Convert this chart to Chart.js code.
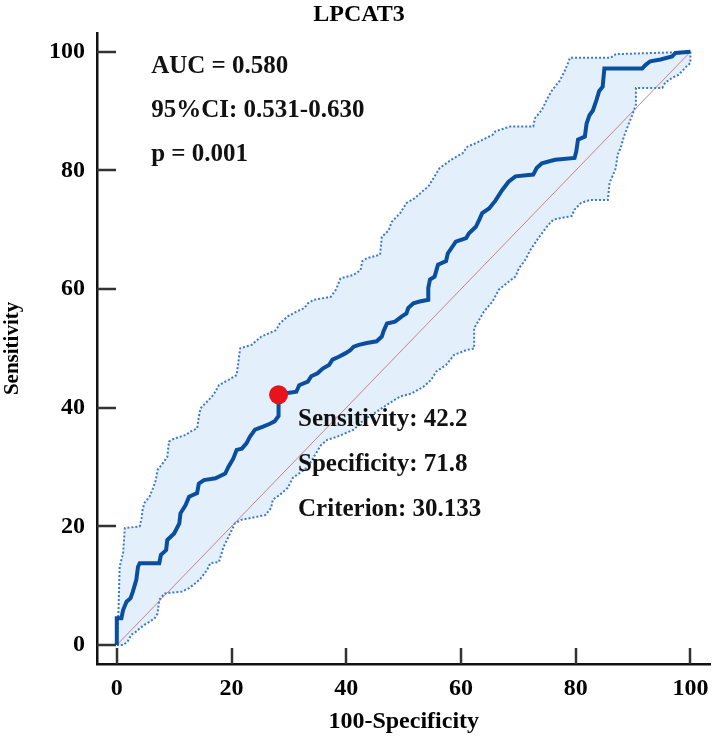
<!DOCTYPE html>
<html>
<head>
<meta charset="utf-8">
<script src="https://cdn.jsdelivr.net/npm/chart.js@4.4.1/dist/chart.umd.min.js"></script>
<style>
  body { margin: 0; background: #fff; }
  #wrap { width: 720px; height: 740px; }
</style>
</head>
<body>
<div id="wrap"><canvas id="rocChart" width="720" height="740"></canvas></div>
<script>
// ROC curve for LPCAT3: [100-Specificity, Sensitivity]
const rocCurve = [
    [0, 0], [0, 4.5], [0.8, 4.5], [1.1, 5.9], [1.7, 7.3], [2.4, 7.9], [2.8, 9.0], [3.4, 11.0], [3.7, 13.2],
    [4.0, 13.8], [7.4, 13.8], [7.7, 15.2], [8.6, 16.0], [8.8, 17.7], [10.0, 18.8], [10.9, 20.5], [11.1, 22.2],
    [12.0, 23.6], [12.6, 25.0], [14.0, 25.6], [14.3, 27.2], [15.2, 27.8], [17.2, 28.1], [18.9, 28.9],
    [19.5, 30.1], [20.3, 31.4], [20.9, 32.9], [21.8, 33.1], [22.6, 34.0], [23.2, 35.1], [24.1, 36.3],
    [25.5, 36.8], [26.7, 37.3], [27.5, 37.7], [28.2, 38.6], [28.2, 42.2], [29.2, 42.4], [31.3, 42.7],
    [31.8, 43.8], [33.3, 44.4], [33.9, 45.3], [35.0, 45.8], [35.9, 46.6], [37.0, 47.2], [37.6, 48.1],
    [38.7, 48.6], [39.9, 49.2], [40.7, 49.7], [41.3, 50.3], [42.2, 50.6], [43.6, 50.9], [45.3, 51.2],
    [46.2, 52.0], [46.5, 52.9], [47.1, 54.2], [48.5, 54.5], [49.7, 55.4], [50.5, 55.9], [50.8, 56.8],
    [51.7, 57.6], [52.8, 57.9], [54.3, 58.2], [54.3, 60.2], [54.6, 61.6], [55.4, 62.1], [56.0, 64.1],
    [57.4, 64.7], [57.7, 66.0], [59.1, 68.0], [60.9, 68.6], [61.4, 69.4], [62.6, 70.5], [63.2, 71.7],
    [63.7, 72.8], [64.9, 73.6], [66.0, 74.9], [67.2, 76.7], [68.3, 78.1], [69.5, 79.0], [72.6, 79.3],
    [73.2, 80.4], [74.1, 81.2], [76.4, 81.8], [79.8, 82.1], [80.1, 83.2], [80.4, 85.2], [81.6, 85.7],
    [81.9, 87.9], [82.4, 89.3], [83.0, 90.1], [83.6, 91.8], [84.1, 93.4], [84.7, 94.1], [85.0, 97.2],
    [91.6, 97.2], [92.2, 97.8], [93.0, 98.4], [94.8, 98.7], [96.8, 99.2], [97.4, 99.8], [100, 100]
];

// 95% confidence bounds
const upperBound = [
    [0, 0], [0.3, 6.0], [0.5, 13.2], [1.1, 15.5], [1.4, 19.7], [4.0, 20.0], [4.3, 21.3], [4.5, 22.8],
    [4.8, 23.9], [5.7, 25.0], [6.3, 26.4], [6.8, 27.8], [7.1, 29.5], [8.0, 30.6], [8.8, 31.7], [9.1, 34.3],
    [10.0, 34.8], [12.0, 35.4], [12.9, 36.0], [14.0, 36.5], [14.3, 38.5], [14.6, 39.9], [15.4, 40.7],
    [16.6, 41.9], [17.2, 42.7], [17.8, 43.8], [18.9, 44.4], [19.5, 44.7], [20.9, 45.5], [21.5, 50.0],
    [23.5, 50.6], [25.2, 52.0], [26.4, 52.5], [27.8, 53.1], [28.4, 54.2], [29.8, 55.4], [31.3, 56.2],
    [32.7, 56.8], [33.3, 57.6], [34.4, 58.2], [35.6, 58.4], [37.3, 58.7], [38.2, 59.9], [39.0, 61.8],
    [41.3, 62.4], [42.5, 63.2], [42.8, 64.7], [43.6, 65.2], [45.9, 65.8], [46.2, 68.8], [47.4, 69.9],
    [47.9, 71.3], [49.4, 72.8], [50.5, 74.5], [51.9, 75.3], [54.4, 77.4], [55.7, 79.5], [56.3, 80.4],
    [58.3, 81.8], [60.3, 82.9], [61.1, 84.0], [62.6, 84.6], [65.5, 86.0], [66.0, 86.6], [68.6, 87.4],
    [72.6, 87.4], [72.9, 88.8], [74.1, 90.2], [74.9, 91.8], [75.8, 93.4], [77.2, 95.1], [78.1, 96.8],
    [78.7, 98.2], [79.0, 99.0], [86.1, 99.0], [87.0, 99.6], [93.6, 99.8], [100, 100]
];
const lowerBound = [
    [0, 0], [1.1, 0], [1.9, 0.6], [2.5, 1.7], [3.4, 2.3], [4.0, 2.8], [4.8, 3.4], [5.7, 3.9], [6.6, 4.5],
    [7.1, 5.3], [7.4, 7.6], [8.3, 8.7], [11.4, 9.0], [12.6, 9.6], [13.7, 10.4], [14.6, 11.2], [15.7, 12.6],
    [16.3, 13.8], [17.8, 14.0], [18.6, 16.5], [20.6, 20.5], [21.7, 21.1], [25.9, 21.9], [26.9, 23.1],
    [27.2, 24.5], [28.4, 25.3], [29.8, 26.5], [30.7, 28.2], [31.9, 29.0], [33.3, 30.0], [34.4, 31.8],
    [35.6, 33.7], [36.7, 34.6], [38.4, 35.1], [41.3, 36.3], [43.0, 37.9], [44.8, 39.0], [47.1, 40.5],
    [49.4, 41.9], [51.4, 42.4], [53.4, 43.5], [54.8, 44.7], [55.7, 46.1], [57.4, 47.2], [58.8, 48.9],
    [60.9, 49.7], [62.3, 50.0], [62.3, 53.4], [64.0, 56.2], [65.5, 57.9], [66.6, 59.9], [68.0, 61.0],
    [69.5, 62.1], [70.1, 63.5], [71.2, 64.9], [72.1, 66.6], [73.5, 68.6], [75.2, 70.8], [76.1, 71.7],
    [77.5, 72.0], [79.3, 72.3], [79.8, 73.4], [80.9, 74.5], [82.4, 75.0], [85.6, 75.0], [85.9, 77.9],
    [86.4, 79.0], [87.0, 80.4], [87.3, 82.6], [87.9, 84.0], [88.4, 85.7], [89.3, 88.0], [89.9, 89.4],
    [90.5, 91.1], [90.5, 93.9], [95.1, 93.9], [95.6, 94.8], [96.8, 95.6], [97.9, 96.1], [98.8, 97.0],
    [99.4, 97.6], [100, 98.1], [100, 100]
];

const chanceLine = [[0, 0], [100, 100]];
const cutoffPoint = [28.2, 42.2]; // 100-71.8, 42.2
const tickValues = [0, 20, 40, 60, 80, 100];
const statLines = ['AUC = 0.580', '95%CI: 0.531-0.630', 'p = 0.001'];
const cutoffLines = ['Sensitivity: 42.2', 'Specificity: 71.8', 'Criterion: 30.133'];

const toXY = arr => arr.map(p => ({ x: p[0], y: p[1] }));
// closed shape for the shaded CI band
const bandShape = toXY(upperBound.concat(lowerBound.slice().reverse()));

const serif = '"Liberation Serif", "Times New Roman", serif';

// draws inward tick marks and the text blocks
const decorPlugin = {
    id: 'decor',
    afterDraw(chart) {
        const { ctx, chartArea: a, scales: { x, y } } = chart;
        ctx.save();
        ctx.strokeStyle = '#333';
        ctx.lineWidth = 2.5;
        tickValues.forEach(v => {
            const py = Math.round(y.getPixelForValue(v));
            ctx.beginPath();
            ctx.moveTo(a.left, py);
            ctx.lineTo(a.left + 19, py);
            ctx.stroke();
            const px = Math.round(x.getPixelForValue(v));
            ctx.beginPath();
            ctx.moveTo(px, a.bottom);
            ctx.lineTo(px, a.bottom - 16);
            ctx.stroke();
        });

        ctx.fillStyle = '#111';
        ctx.font = 'bold 25px ' + serif;
        ctx.textAlign = 'left';
        ctx.textBaseline = 'middle';
        statLines.forEach((t, i) => {
            ctx.fillText(t, x.getPixelForValue(6.0), y.getPixelForValue(97.5 - i * 7.45));
        });
        cutoffLines.forEach((t, i) => {
            ctx.fillText(t, x.getPixelForValue(31.6), y.getPixelForValue(38.0 - i * 7.6));
        });
        ctx.restore();
    }
};

const ctx = document.getElementById('rocChart').getContext('2d');
new Chart(ctx, {
    type: 'scatter',
    data: {
        datasets: [
            {
                label: 'Cutoff',
                data: [{ x: cutoffPoint[0], y: cutoffPoint[1] }],
                pointRadius: 9.5,
                pointBackgroundColor: '#e8141c',
                pointBorderWidth: 0,
                showLine: false
            },
            {
                label: 'ROC',
                data: toXY(rocCurve),
                showLine: true,
                borderColor: '#0a4f9f',
                borderWidth: 4,
                pointRadius: 0,
                fill: false
            },
            {
                label: 'Upper 95% CI',
                data: toXY(upperBound),
                showLine: true,
                borderColor: '#3b7acb',
                borderWidth: 2,
                borderDash: [2, 2],
                pointRadius: 0,
                fill: false
            },
            {
                label: 'Lower 95% CI',
                data: toXY(lowerBound),
                showLine: true,
                borderColor: '#3b7acb',
                borderWidth: 2,
                borderDash: [2, 2],
                pointRadius: 0,
                fill: false
            },
            {
                label: 'Chance',
                data: toXY(chanceLine),
                showLine: true,
                borderColor: 'rgba(195, 90, 95, 0.75)',
                borderWidth: 1,
                pointRadius: 0,
                fill: false
            },
            {
                label: 'CI band',
                data: bandShape,
                showLine: true,
                borderColor: 'transparent',
                borderWidth: 0,
                backgroundColor: '#e4effc',
                pointRadius: 0,
                fill: 'shape'
            }
        ]
    },
    options: {
        responsive: false,
        animation: false,
        devicePixelRatio: 1,
        layout: { padding: { left: 0, right: 2, top: 0, bottom: 0 } },
        plugins: {
            legend: { display: false },
            tooltip: { enabled: false },
            title: {
                display: true,
                text: 'LPCAT3',
                color: '#000',
                font: { family: serif, size: 24, weight: 'bold' },
                padding: { top: 0, bottom: 4 }
            }
        },
        scales: {
            x: {
                type: 'linear',
                min: -3.45,
                max: 103.5,
                afterFit: s => { s.height = 76; },
                afterBuildTicks: s => { s.ticks = tickValues.map(v => ({ value: v })); },
                grid: { display: false, drawTicks: false },
                border: { display: true, color: '#111', width: 2.5 },
                ticks: {
                    color: '#000',
                    padding: 10,
                    maxRotation: 0,
                    font: { family: serif, size: 24, weight: 'bold' }
                },
                title: {
                    display: true,
                    text: '100-Specificity',
                    color: '#000',
                    font: { family: serif, size: 24, weight: 'bold' },
                    padding: { top: 0, bottom: 4 }
                }
            },
            y: {
                type: 'linear',
                min: -3.2,
                max: 103.2,
                afterFit: s => { s.width = 97; },
                afterBuildTicks: s => { s.ticks = tickValues.map(v => ({ value: v })); },
                grid: { display: false, drawTicks: false },
                border: { display: true, color: '#111', width: 2.5 },
                ticks: {
                    color: '#000',
                    padding: 12,
                    font: { family: serif, size: 24, weight: 'bold' }
                },
                title: {
                    display: true,
                    text: 'Sensitivity',
                    color: '#000',
                    font: { family: serif, size: 21, weight: 'bold' },
                    padding: { top: 0, bottom: 0 }
                }
            }
        }
    },
    plugins: [decorPlugin]
});
</script>
</body>
</html>
